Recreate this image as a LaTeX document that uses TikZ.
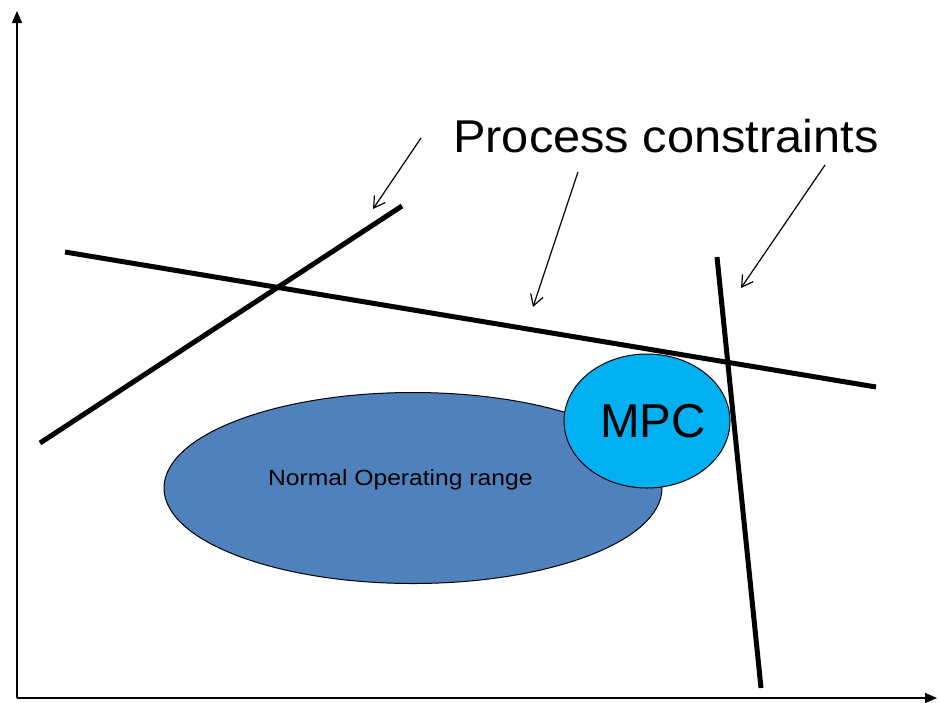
\documentclass[tikz,border=0pt]{standalone}
\usepackage{fontspec}
\setmainfont{Liberation Sans}
\usetikzlibrary{shapes.geometric,arrows.meta}
\definecolor{rangeblue}{HTML}{4F81BD}
\definecolor{mpcblue}{HTML}{00B0F0}
\tikzset{
  axis/.style={line width=1.5pt,-{Triangle[length=12pt,width=10pt]}},
  constraint/.style={line width=5pt},
  pointer/.style={line width=1.2pt,-{Straight Barb[length=11pt,width=13pt]}},
  region/.style={ellipse,draw=black,line width=1pt,inner sep=0pt},
  caption/.style={inner sep=0pt,anchor=base west},
}
\begin{document}
\begin{tikzpicture}[x=1pt,y=-1pt]
\useasboundingbox (0,0) rectangle (939,702);
% axes
\coordinate (origin) at (17,698);
\coordinate (ytop) at (17,11);
\coordinate (xend) at (937,698);
\draw[axis] (origin) -- (ytop);
\draw[axis] (origin) -- (xend);
% operating regions
\node[region,fill=rangeblue,minimum width=498pt,minimum height=191pt] (normal) at (413,488) {};
\node[region,fill=mpcblue,minimum width=166pt,minimum height=134pt] (mpc) at (647,421) {};
\node[caption] (normaltext) at (268,485) {\fontsize{22pt}{22pt}\selectfont\scalebox{1.12}[1]{Normal Operating range}};
\node[caption] (mpctext) at (600,437) {\fontsize{47.5pt}{47.5pt}\selectfont MPC};
% constraint lines
\coordinate (a1) at (40,443);
\coordinate (a2) at (402,206);
\coordinate (b1) at (65,252);
\coordinate (b2) at (876,387);
\coordinate (c1) at (717,257);
\coordinate (c2) at (761,688);
\draw[constraint] (a1) -- (a2);
\draw[constraint] (b1) -- (b2);
\draw[constraint] (c1) -- (c2);
% title and pointers
\node[caption] (title) at (453,152) {\fontsize{46pt}{46pt}\selectfont\scalebox{1.06}[1]{Process constraints}};
\coordinate (p1s) at (421,138);
\coordinate (p1e) at (373,209);
\coordinate (p2s) at (578,172);
\coordinate (p2e) at (533,307);
\coordinate (p3s) at (825,165);
\coordinate (p3e) at (741,288);
\draw[pointer] (p1s) -- (p1e);
\draw[pointer] (p2s) -- (p2e);
\draw[pointer] (p3s) -- (p3e);
\end{tikzpicture}
\end{document}
